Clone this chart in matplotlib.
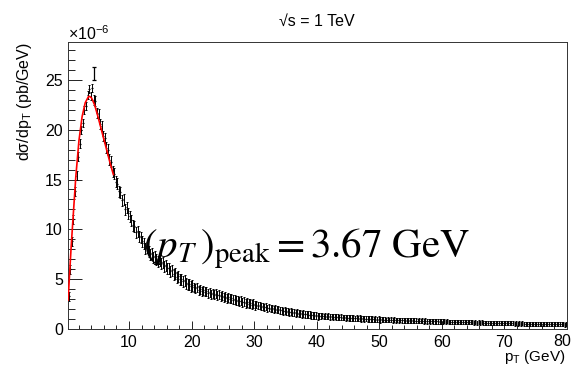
import numpy as np
import matplotlib
matplotlib.use("Agg")
import matplotlib.pyplot as plt
from matplotlib.ticker import MultipleLocator, FuncFormatter

plt.rcParams['font.family'] = ['Liberation Sans', 'DejaVu Sans']
plt.rcParams['mathtext.fontset'] = 'custom'
plt.rcParams['mathtext.rm'] = 'Liberation Sans'
plt.rcParams['mathtext.it'] = 'Liberation Sans:italic'

# bin centres (GeV), 0.25 GeV wide bins from 0.25 to 80 GeV
pt_centers = np.arange(0.375, 80.0, 0.25)
bin_half_width = 0.125

# dsigma/dpT in units of 1e-6 pb/GeV, one row per 2 GeV
xsec = [
    3.3, 6.0, 8.8, 11.0, 13.8, 15.4, 17.3, 18.6,
    20.0, 20.7, 22.0, 22.4, 23.5, 24.1, 23.4, 24.2,
    23.0, 22.9, 21.7, 21.6, 20.6, 20.4, 19.4, 19.2,
    18.2, 18.0, 17.0, 16.8, 15.8, 15.6, 14.8, 14.6,
    13.8, 13.7, 12.9, 13.0, 12.0, 12.2, 11.6, 11.3,
    10.9, 10.4, 10.3, 9.7, 9.8, 9.3, 9.2, 8.8,
    8.6, 8.1, 8.2, 7.8, 7.5, 7.6, 7.2, 7.3,
    7.0, 6.8, 6.9, 6.6, 6.7, 6.3, 6.4, 6.1,
    6.1, 5.8, 5.9, 5.5, 5.6, 5.2, 5.3, 5.0,
    5.0, 4.8, 4.9, 4.6, 4.5, 4.5, 4.3, 4.4,
    4.2, 4.1, 4.2, 3.9, 4.0, 3.8, 3.9, 3.75,
    3.8, 3.6, 3.7, 3.5, 3.6, 3.45, 3.55, 3.4,
    3.45, 3.3, 3.35, 3.2, 3.25, 3.1, 3.2, 3.05,
    3.1, 2.95, 3.0, 2.85, 2.9, 2.8, 2.85, 2.7,
    2.75, 2.6, 2.7, 2.55, 2.6, 2.45, 2.55, 2.4,
    2.45, 2.35, 2.4, 2.25, 2.3, 2.2, 2.25, 2.1,
    2.15, 2.05, 2.1, 1.98, 2.02, 1.92, 1.96, 1.86,
    1.9, 1.8, 1.84, 1.74, 1.78, 1.68, 1.72, 1.64,
    1.66, 1.58, 1.62, 1.54, 1.57, 1.5, 1.53, 1.46,
    1.48, 1.42, 1.45, 1.38, 1.4, 1.34, 1.36, 1.3,
    1.33, 1.28, 1.34, 1.27, 1.3, 1.24, 1.28, 1.22,
    1.26, 1.2, 1.24, 1.18, 1.21, 1.16, 1.2, 1.14,
    1.17, 1.12, 1.15, 1.1, 1.13, 1.08, 1.11, 1.06,
    1.09, 1.04, 1.08, 1.03, 1.06, 1.01, 1.04, 0.99,
    1.02, 0.98, 1.01, 0.96, 0.99, 0.95, 0.98, 0.93,
    0.96, 0.92, 0.95, 0.91, 0.94, 0.9, 0.93, 0.89,
    0.92, 0.88, 0.91, 0.87, 0.9, 0.86, 0.89, 0.85,
    0.88, 0.84, 0.87, 0.83, 0.86, 0.82, 0.85, 0.81,
    0.84, 0.8, 0.83, 0.79, 0.82, 0.78, 0.81, 0.77,
    0.8, 0.77, 0.79, 0.76, 0.78, 0.75, 0.77, 0.74,
    0.77, 0.73, 0.76, 0.72, 0.75, 0.71, 0.74, 0.7,
    0.73, 0.7, 0.72, 0.69, 0.71, 0.68, 0.7, 0.67,
    0.7, 0.66, 0.69, 0.65, 0.68, 0.64, 0.67, 0.63,
    0.66, 0.63, 0.65, 0.62, 0.64, 0.61, 0.63, 0.6,
    0.63, 0.6, 0.62, 0.59, 0.61, 0.58, 0.6, 0.57,
    0.6, 0.57, 0.59, 0.56, 0.58, 0.55, 0.57, 0.54,
    0.57, 0.54, 0.56, 0.53, 0.55, 0.52, 0.54, 0.51,
    0.54, 0.52, 0.53, 0.5, 0.52, 0.5, 0.51, 0.49,
    0.52, 0.49, 0.51, 0.48, 0.5, 0.47, 0.49, 0.46,
    0.49, 0.47, 0.48, 0.46, 0.47, 0.45, 0.46,
]
# typical error for each 2 GeV row (1e-6 pb/GeV)
err_rows = [0.45, 0.4, 0.5, 0.55, 0.55, 0.55, 0.55, 0.55, 0.55, 0.55,
            0.45, 0.45, 0.45, 0.45, 0.45, 0.35, 0.35, 0.35, 0.35, 0.35,
            0.28, 0.28, 0.28, 0.28, 0.28, 0.24, 0.24, 0.24, 0.24, 0.24,
            0.2, 0.2, 0.2, 0.2, 0.2, 0.2, 0.2, 0.2, 0.2, 0.2]
row_sizes = [8] * 39 + [7]
xsec_err = np.repeat(err_rows, row_sizes)

# isolated bin near the peak
outlier_pt = [4.47]
outlier_val = [25.6]
outlier_err = [0.65]

# fit curve (red)
fit_pt = [0.27, 0.5, 0.75, 1.0, 1.5, 2.0, 2.5, 3.0, 3.5, 3.67, 4.0, 4.5,
          5.0, 5.5, 6.0, 6.5, 7.0, 7.5]
fit_val = [2.9, 5.5, 8.2, 10.6, 15.3, 18.9, 21.3, 22.7, 23.3, 23.35, 23.2, 22.5,
           21.4, 20.2, 19.0, 17.8, 16.6, 15.5]

x_tick_labels = ['10', '20', '30', '40', '50', '60', '70', '80']

W, H = 573, 366
fig = plt.figure(figsize=(W / 100, H / 100), dpi=100)
ax = fig.add_axes([68 / W, 1 - 329 / H, (567 - 68) / W, (329 - 42) / H])

ax.errorbar(pt_centers, xsec, xerr=bin_half_width, fmt='none',
            ecolor='black', elinewidth=0.9, capsize=0)
ax.errorbar(pt_centers, xsec, yerr=xsec_err, fmt='none',
            ecolor='black', elinewidth=0.7, capsize=1.0, capthick=0.7)
ax.errorbar(outlier_pt, outlier_val, yerr=outlier_err, fmt='none',
            ecolor='black', elinewidth=0.9, capsize=1.5, capthick=0.9)
ax.plot(fit_pt, fit_val, color='red', lw=1.2, zorder=3)

ax.set_xlim(0.25, 80)
ax.set_ylim(0, 28.8)
ax.xaxis.set_major_locator(MultipleLocator(10))
ax.xaxis.set_minor_locator(MultipleLocator(2))
ax.yaxis.set_major_locator(MultipleLocator(5))
ax.yaxis.set_minor_locator(MultipleLocator(1))
# last x label (80) is placed by hand so it stays inside the figure
ax.xaxis.set_major_formatter(FuncFormatter(
    lambda v, p: '' if v >= 79.9 else '%d' % round(v)))
ax.tick_params(axis='both', which='both', direction='in', top=False, right=False,
               width=0.6, labelsize=11.5)
ax.tick_params(axis='x', which='major', length=5.5, pad=4.3)
ax.tick_params(axis='x', which='minor', length=3)
ax.tick_params(axis='y', which='major', length=10, pad=3.6)
ax.tick_params(axis='y', which='minor', length=5)
for s in ax.spines.values():
    s.set_linewidth(0.7)
    s.set_color('#333333')

fig.text(562 / W, 1 - 346 / H, x_tick_labels[-1], ha='center', va='baseline',
         fontsize=11.5)
fig.text(25 / W, 1 - 42 / H, 'dσ/dp$_{\\mathrm{T}}$ (pb/GeV)', rotation=90,
         ha='center', va='top', fontsize=11.5)
fig.text(566 / W, 1 - 361 / H, 'p$_{\\mathrm{T}}$ (GeV)', ha='right',
         va='baseline', fontsize=11)
fig.text(68 / W, 1 - 40 / H, '×10$^{-6}$', ha='left', va='baseline', fontsize=11.5)
fig.text(317 / W, 1 - 26 / H, '√s = 1 TeV', ha='center', va='baseline',
         fontsize=11.5)
fig.text(143 / W, 1 - 257.5 / H,
         r'$(p_{T}\,)_{\rm peak} = 3.67\ {\rm GeV}$',
         math_fontfamily='stix', ha='left', va='baseline', fontsize=29.5)

fig.savefig('out.png', dpi=100)
